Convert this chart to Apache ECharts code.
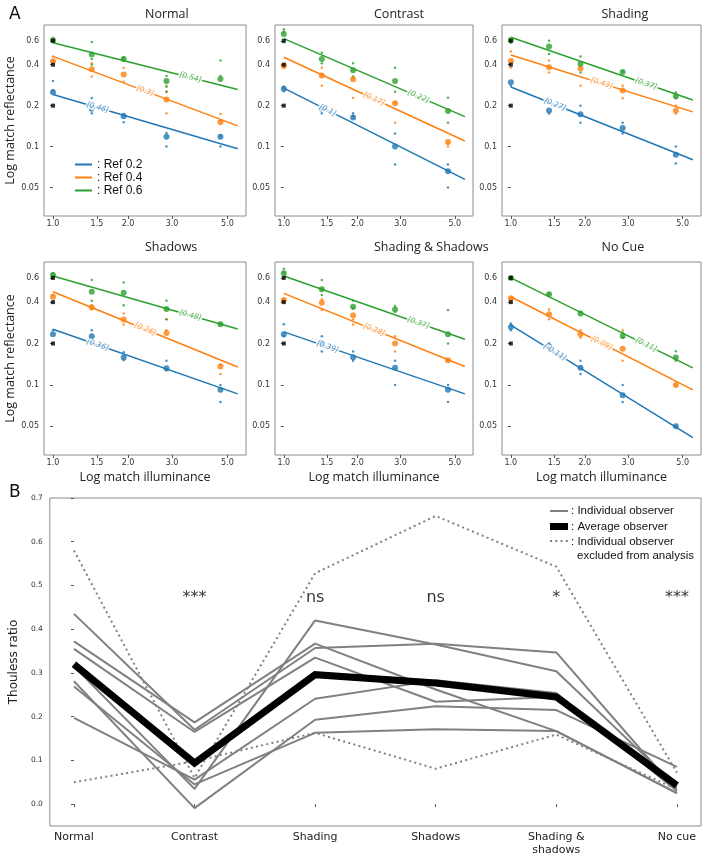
<!DOCTYPE html>
<html>
<head>
<meta charset="utf-8">
<script src="https://cdn.jsdelivr.net/npm/echarts@6/dist/echarts.min.js"></script>
<style>html,body{margin:0;background:#fff}#main{width:708px;height:860px}</style>
</head>
<body>
<div id="main"></div>
<script>
// ---- panel A : log-log matches ----
var panelTitles = ['Normal', 'Contrast', 'Shading', 'Shadows', 'Shading & Shadows', 'No Cue'];
var illum = [1.0, 1.43, 1.92, 2.85, 4.69];
var refNames = ['Ref 0.2', 'Ref 0.4', 'Ref 0.6'];
var refValues = [0.2, 0.4, 0.6];
var xTicks = [1.0, 1.5, 2.0, 3.0, 5.0];
var yTicks = [0.05, 0.1, 0.2, 0.4, 0.6];
var fitEndIllum = 5.5;
var labelIllum = [1.51, 2.34, 3.55];

// means per ref (0.2, 0.4, 0.6) at each illuminance
var normalMeans = [[0.251, 0.19, 0.167, 0.118, 0.118], [0.424, 0.371, 0.339, 0.222, 0.151], [0.606, 0.475, 0.441, 0.304, 0.314]];
var normalDots = [
  [[0.304, 0.26], [0.228, 0.176], [0.174, 0.151], [0.126, 0.1], [0.1, 0.12]],
  [[0.46, 0.43], [0.41, 0.327], [0.378, 0.3], [0.28, 0.253, 0.176], [0.174, 0.155]],
  [[0.63, 0.59], [0.588, 0.44, 0.4], [0.45, 0.43], [0.33, 0.276, 0.253], [0.43, 0.33]]
];
var normalFit = [[0.242, 0.0966], [0.461, 0.142], [0.58, 0.263]];
var normalSlope = ['[0.46]', '[0.3]', '[0.54]'];

var contrastMeans = [[0.266, 0.19, 0.164, 0.1, 0.066], [0.393, 0.333, 0.313, 0.208, 0.108], [0.673, 0.441, 0.365, 0.304, 0.183]];
var contrastDots = [
  [[0.255, 0.275], [0.176], [0.176, 0.168], [0.125, 0.074], [0.074, 0.05]],
  [[0.39, 0.38], [0.38, 0.28], [0.228, 0.32], [0.15, 0.21], [0.1, 0.106]],
  [[0.73, 0.585, 0.7], [0.49, 0.41], [0.41, 0.327], [0.38, 0.253], [0.229, 0.15]]
];
var contrastFit = [[0.269, 0.0574], [0.454, 0.11], [0.622, 0.166]];
var contrastSlope = ['[0.1]', '[0.17]', '[0.22]'];

var shadingMeans = [[0.297, 0.184, 0.173, 0.137, 0.087], [0.426, 0.384, 0.375, 0.259, 0.184], [0.608, 0.545, 0.407, 0.353, 0.235]];
var shadingDots = [
  [[0.28], [0.175], [0.2, 0.15], [0.15, 0.125], [0.1, 0.075]],
  [[0.5, 0.38], [0.43, 0.35], [0.28], [0.28, 0.227], [0.2, 0.175]],
  [[0.58], [0.6, 0.48], [0.46, 0.35], [0.355], [0.25, 0.227]]
];
var shadingFit = [[0.274, 0.08], [0.472, 0.18], [0.636, 0.22]];
var shadingSlope = ['[0.27]', '[0.43]', '[0.37]'];

var shadowsMeans = [[0.234, 0.226, 0.158, 0.132, 0.092], [0.438, 0.366, 0.299, 0.239, 0.136], [0.63, 0.476, 0.469, 0.356, 0.276]];
var shadowsDots = [
  [[0.25], [0.25, 0.2], [0.173, 0.152], [0.15, 0.128], [0.1, 0.075]],
  [[0.45], [0.38, 0.36], [0.33, 0.275], [0.3, 0.25], [0.12, 0.14]],
  [[0.65, 0.62], [0.58, 0.41], [0.556, 0.38], [0.41, 0.3], [0.28]]
];
var shadowsFit = [[0.254, 0.086], [0.476, 0.135], [0.62, 0.255]];
var shadowsSlope = ['[0.36]', '[0.26]', '[0.48]'];

var bothMeans = [[0.234, 0.2, 0.159, 0.133, 0.092], [0.414, 0.396, 0.321, 0.2, 0.151], [0.649, 0.496, 0.37, 0.354, 0.234]];
var bothDots = [
  [[0.276, 0.226], [0.226, 0.175], [0.175, 0.15], [0.15, 0.1], [0.1, 0.075]],
  [[0.42], [0.42, 0.35], [0.275, 0.3], [0.226, 0.175], [0.15]],
  [[0.7, 0.66], [0.58, 0.45], [0.41, 0.36], [0.375, 0.34], [0.35, 0.2]]
];
var bothFit = [[0.243, 0.086], [0.463, 0.136], [0.62, 0.215]];
var bothSlope = ['[0.39]', '[0.28]', '[0.37]'];

var nocueMeans = [[0.264, 0.19, 0.133, 0.084, 0.05], [0.426, 0.327, 0.234, 0.183, 0.1], [0.6, 0.456, 0.331, 0.227, 0.158]];
var nocueDots = [
  [[0.28, 0.25], [0.2, 0.175], [0.15, 0.12], [0.1, 0.075], [0.05]],
  [[0.42], [0.354, 0.3], [0.25, 0.22], [0.25, 0.15], [0.1]],
  [[0.6], [0.46], [0.34], [0.24, 0.22], [0.176, 0.15]]
];
var nocueFit = [[0.272, 0.0414], [0.438, 0.092], [0.6, 0.133]];
var nocueSlope = ['[-0.11]', '[0.09]', '[0.11]'];

// ---- panel B : Thouless ratios ----
var conditions = ['Normal', 'Contrast', 'Shading', 'Shadows', 'Shading &\nshadows', 'No cue'];
var observers = [
  [0.435, 0.17, 0.357, 0.367, 0.347, 0.03],
  [0.372, 0.187, 0.367, 0.262, 0.167, 0.025],
  [0.355, 0.165, 0.335, 0.234, 0.245, 0.035],
  [0.315, 0.035, 0.42, 0.365, 0.304, 0.04],
  [0.197, 0.056, 0.241, 0.283, 0.254, 0.03],
  [0.281, -0.009, 0.193, 0.224, 0.215, 0.085],
  [0.269, 0.045, 0.163, 0.171, 0.167, 0.025]
];
var averageObserver = [0.32, 0.094, 0.296, 0.277, 0.245, 0.043];
var excludedObservers = [
  [0.58, 0.06, 0.528, 0.659, 0.543, 0.072],
  [0.05, 0.098, 0.163, 0.081, 0.159, 0.034]
];
var sigLabels = ['', '***', 'ns', 'ns', '*', '***'];
var sigLevel = 0.472;
var ratioTicks = [0, 0.1, 0.2, 0.3, 0.4, 0.5, 0.6, 0.7];

var panels = [
  {means: normalMeans, dots: normalDots, fit: normalFit, slope: normalSlope},
  {means: contrastMeans, dots: contrastDots, fit: contrastFit, slope: contrastSlope},
  {means: shadingMeans, dots: shadingDots, fit: shadingFit, slope: shadingSlope},
  {means: shadowsMeans, dots: shadowsDots, fit: shadowsFit, slope: shadowsSlope},
  {means: bothMeans, dots: bothDots, fit: bothFit, slope: bothSlope},
  {means: nocueMeans, dots: nocueDots, fit: nocueFit, slope: nocueSlope}
];

var colors = ['#1f77b4', '#ff7f0e', '#2ca02c'];
var frame = '#8c8c8c';
var clear = 'rgba(0,0,0,0)';
var L = Math.log10;
var colLeft = [44, 275, 502], colWidth = [202, 198, 199], rowTop = [25, 262], panelH = 191;
var xMin = -0.036, xMax = 0.7735, yMin = -1.51, yMax = -0.106;

var grids = [], xAxes = [], yAxes = [], series = [], graphics = [];

panels.forEach(function (p, i) {
  var row = Math.floor(i / 3), col = i % 3;
  var h = row === 0 ? panelH : panelH + 2;
  grids.push({left: colLeft[col], top: rowTop[row], width: colWidth[col], height: h,
    show: true, borderColor: frame, borderWidth: 1});
  xAxes.push({
    gridIndex: i, type: 'value', min: xMin, max: xMax,
    axisLine: {show: false}, splitLine: {show: false},
    axisTick: {show: true, customValues: xTicks.map(L), length: 3, lineStyle: {color: '#555'}},
    axisLabel: {customValues: xTicks.map(L), margin: 4, fontSize: 8, color: '#333', fontFamily: 'DejaVu Sans',
      formatter: function (v) { return Math.pow(10, v).toFixed(1); }},
    name: row === 1 ? 'Log match illuminance' : '', nameLocation: 'middle', nameGap: 16,
    nameTextStyle: {fontSize: 12.5, color: '#222', fontFamily: 'Open Sans'}
  });
  yAxes.push({
    gridIndex: i, type: 'value', min: yMin, max: yMax,
    axisLine: {show: false}, splitLine: {show: false},
    axisTick: {show: true, customValues: yTicks.map(L), length: 3, lineStyle: {color: '#555'}},
    axisLabel: {customValues: yTicks.map(L), margin: 5, fontSize: 8, color: '#333', fontFamily: 'DejaVu Sans',
      formatter: function (v) { return String(+Math.pow(10, v).toPrecision(1)); }},
    name: col === 0 ? 'Log match reflectance' : '', nameLocation: 'middle', nameGap: 17, nameRotate: 90,
    nameTextStyle: {fontSize: 12.5, color: '#222', fontFamily: 'Open Sans'}
  });
  graphics.push({type: 'text', left: colLeft[col] + colWidth[col] / 2, top: row === 0 ? 8 : 241,
    style: {text: panelTitles[i], fontSize: 12.5, fontFamily: 'Open Sans', fill: '#222', textAlign: 'center'}});

  var pxX = colWidth[col] / (xMax - xMin), pxY = h / (yMax - yMin);
  for (var r = 0; r < 3; r++) {
    var x0 = L(1), x1 = L(fitEndIllum), y0 = L(p.fit[r][0]), y1 = L(p.fit[r][1]);
    series.push({type: 'line', name: i === 0 ? refNames[r] : 'fit' + i + r, xAxisIndex: i, yAxisIndex: i,
      data: [[x0, y0], [x1, y1]], symbol: 'none', silent: true, z: 2,
      lineStyle: {color: colors[r], width: 1.5}, itemStyle: {color: colors[r]}});
    var small = [];
    p.dots[r].forEach(function (arr, k) { arr.forEach(function (v) { small.push([L(illum[k]), L(v)]); }); });
    series.push({type: 'scatter', xAxisIndex: i, yAxisIndex: i, data: small, symbolSize: 2.5, silent: true, z: 3,
      itemStyle: {color: colors[r]}});
    series.push({type: 'scatter', xAxisIndex: i, yAxisIndex: i, z: 4, silent: true, symbolSize: 6,
      data: p.means[r].map(function (v, k) { return [L(illum[k]), L(v)]; }), itemStyle: {color: colors[r]}});
    var lx = L(labelIllum[r]);
    var ly = y0 + (y1 - y0) * (lx - x0) / (x1 - x0);
    var ang = Math.atan((y1 - y0) / (x1 - x0) * pxY / pxX) * 180 / Math.PI;
    series.push({type: 'scatter', xAxisIndex: i, yAxisIndex: i, z: 6, silent: true, symbolSize: 1,
      itemStyle: {color: clear}, data: [[lx, ly]],
      label: {show: true, position: 'inside', formatter: p.slope[r], rotate: ang, fontSize: 7.5,
        fontStyle: 'italic', fontFamily: 'DejaVu Sans', color: colors[r], backgroundColor: '#fff', padding: [0, 1]}});
  }
  series.push({type: 'scatter', xAxisIndex: i, yAxisIndex: i, z: 5, silent: true, symbol: 'rect', symbolSize: 4,
    data: refValues.map(function (v) { return [L(1), L(v)]; }), itemStyle: {color: '#000'}});
});

// panel B
var b = 6;
grids.push({left: 44, top: 498, width: 657, height: 328, show: true, borderColor: frame, borderWidth: 1});
xAxes.push({
  gridIndex: b, type: 'value', min: -0.2, max: 5.2,
  axisLine: {show: false}, splitLine: {show: false},
  axisTick: {show: true, customValues: [0, 1, 2, 3, 4, 5], length: 3, lineStyle: {color: '#555'}},
  axisLabel: {customValues: [0, 1, 2, 3, 4, 5], margin: 5, fontSize: 11, lineHeight: 13, color: '#222',
    fontFamily: 'DejaVu Sans', formatter: function (v) { return conditions[Math.round(v)]; }}
});
yAxes.push({
  gridIndex: b, type: 'value', min: -0.05, max: 0.7,
  axisLine: {show: false}, splitLine: {show: false},
  axisTick: {show: true, customValues: ratioTicks, length: 3, lineStyle: {color: '#555'}},
  axisLabel: {customValues: ratioTicks, margin: 7, fontSize: 7.5, color: '#333', fontFamily: 'DejaVu Sans',
    formatter: function (v) { return v.toFixed(1); }},
  name: 'Thouless ratio', nameLocation: 'middle', nameGap: 22, nameRotate: 90,
  nameTextStyle: {fontSize: 12, color: '#222', fontFamily: 'DejaVu Sans'}
});
function pairs(arr) { return arr.map(function (v, k) { return [k, v]; }); }
excludedObservers.forEach(function (o) {
  series.push({type: 'line', xAxisIndex: b, yAxisIndex: b, data: pairs(o), symbol: 'none', silent: true, z: 2,
    lineStyle: {color: '#808080', width: 2, type: [2, 3.3]}});
});
observers.forEach(function (o) {
  series.push({type: 'line', xAxisIndex: b, yAxisIndex: b, data: pairs(o), symbol: 'none', silent: true, z: 3,
    lineStyle: {color: '#808080', width: 2}});
});
series.push({type: 'line', xAxisIndex: b, yAxisIndex: b, data: pairs(averageObserver), symbol: 'none', silent: true, z: 4,
  lineStyle: {color: '#000', width: 7, join: 'miter'}});
series.push({type: 'scatter', xAxisIndex: b, yAxisIndex: b, symbolSize: 1, itemStyle: {color: clear}, silent: true, z: 5,
  data: sigLabels.map(function (s, k) { return {value: [k, sigLevel], name: s}; }).filter(function (d) { return d.name; }),
  label: {show: true, position: 'inside', formatter: '{b}', fontSize: 16, color: '#000', textBorderWidth: 0,
    fontFamily: 'DejaVu Sans'}});

// legend of panel B
var lgX = 550, lgT = 571;
graphics.push({type: 'line', shape: {x1: lgX, y1: 511, x2: lgX + 18, y2: 511}, style: {stroke: '#808080', lineWidth: 2}});
graphics.push({type: 'rect', shape: {x: lgX, y: 523, width: 18, height: 7}, style: {fill: '#000'}});
graphics.push({type: 'line', shape: {x1: lgX, y1: 541, x2: lgX + 18, y2: 541}, style: {stroke: '#808080', lineWidth: 2, lineDash: [2, 3.3]}});
[[': Individual observer', lgT, 511], [': Average observer', lgT, 526.5], [': Individual observer', lgT, 541.5], ['excluded from analysis', lgT + 6, 555.5]]
  .forEach(function (t) {
    graphics.push({type: 'text', x: t[1], y: t[2], style: {text: t[0], fontSize: 11.5, fontFamily: 'Liberation Sans',
      fill: '#111', textVerticalAlign: 'middle'}});
  });
graphics.push({type: 'text', x: 9, y: 6, style: {text: 'A', fontSize: 17, fontFamily: 'DejaVu Sans', fill: '#111'}});
graphics.push({type: 'text', x: 9, y: 484, style: {text: 'B', fontSize: 17, fontFamily: 'DejaVu Sans', fill: '#111'}});

var chart = echarts.init(document.getElementById('main'), null, {renderer: 'canvas'});
chart.setOption({
  animation: false,
  backgroundColor: '#fff',
  grid: grids,
  xAxis: xAxes,
  yAxis: yAxes,
  legend: {data: refNames, orient: 'vertical', left: 70, top: 153, icon: 'rect', itemWidth: 17, itemHeight: 2,
    itemGap: 0, selectedMode: false, formatter: ': {name}',
    textStyle: {fontSize: 12, lineHeight: 13, fontFamily: 'Liberation Sans', color: '#111'}},
  graphic: graphics,
  series: series
});
</script>
</body>
</html>
